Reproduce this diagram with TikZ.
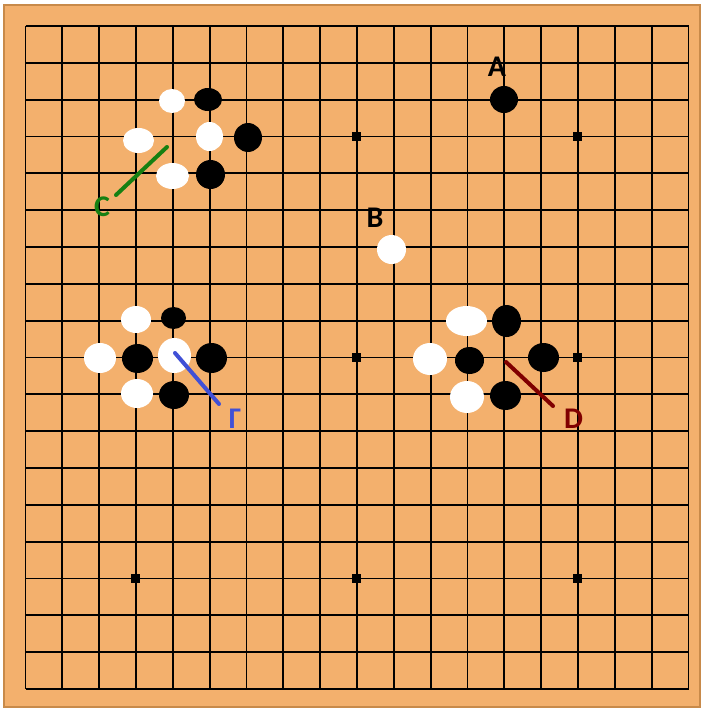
\documentclass[tikz,border=0pt]{standalone}
\usepackage{fontspec}
\setmainfont{Carlito}
\usetikzlibrary{shapes.geometric}
\definecolor{boardfill}{RGB}{243,176,109}
\definecolor{boardedge}{RGB}{200,138,74}
\definecolor{cgreen}{RGB}{22,128,18}
\definecolor{cblue}{RGB}{64,80,214}
\definecolor{cred}{RGB}{128,0,0}
\tikzset{
  stone/.style={ellipse, inner sep=0pt, draw=none},
  wst/.style={stone, fill=white},
  bst/.style={stone, fill=black},
  lab/.style={inner sep=0pt, font=\fontsize{30}{30}\selectfont\bfseries},
  markline/.style={line width=4pt, line cap=round},
  gridline/.style={line width=1.8pt, black},
  hoshi/.style={fill=black}
}
\begin{document}
\begin{tikzpicture}[x=1pt,y=-1pt]
\useasboundingbox (0,0) rectangle (701,709);
\fill[white] (0,0) rectangle (701,709);
% board
\draw[fill=boardfill, draw=boardedge, line width=1.5pt] (4,5) rectangle (700,707);
% grid
\foreach \i in {0,...,18}{
  \draw[gridline] (25.5+36.83*\i,26) -- (25.5+36.83*\i,689);
  \draw[gridline] (25.5,26+36.83*\i) -- (688.5,26+36.83*\i);
}
% star points
\foreach \i in {3,9,15}{
  \foreach \j in {3,9,15}{
    \fill[hoshi] (25.5+36.83*\i-4.5,26+36.83*\j-4.5) rectangle +(9,9);
  }
}
% top-left group
\node[wst, minimum width=26pt, minimum height=24pt] (w1) at (172,101) {};
\node[bst, minimum width=28pt, minimum height=23pt] (b1) at (208,99.5) {};
\node[wst, minimum width=31pt, minimum height=25pt] (w2) at (138.5,140.5) {};
\node[wst, minimum width=27pt, minimum height=29pt] (w3) at (209.5,136.5) {};
\node[bst, minimum width=28pt, minimum height=29pt] (b2) at (248,137.5) {};
\node[wst, minimum width=33pt, minimum height=26pt] (w4) at (172.5,176) {};
\node[bst, minimum width=29pt, minimum height=29pt] (b3) at (210.5,174.5) {};
% A and B
\node[bst, minimum width=28pt, minimum height=27pt] (bA) at (504,99.5) {};
\node[wst, minimum width=29pt, minimum height=29pt] (wB) at (391.5,249.5) {};
% left group
\node[wst, minimum width=30pt, minimum height=27pt] (w5) at (136,319.5) {};
\node[bst, minimum width=25pt, minimum height=22pt] (b4) at (173.5,318) {};
\node[wst, minimum width=32pt, minimum height=30pt] (w6) at (100,358) {};
\node[bst, minimum width=31pt, minimum height=29pt] (b5) at (137.5,358.5) {};
\node[wst, minimum width=33pt, minimum height=35pt] (w7) at (174.5,355.5) {};
\node[bst, minimum width=31pt, minimum height=30pt] (b6) at (211.5,358) {};
\node[wst, minimum width=32pt, minimum height=29pt] (w8) at (137,393.5) {};
\node[bst, minimum width=30pt, minimum height=28pt] (b7) at (174,395) {};
% right group
\node[wst, minimum width=41pt, minimum height=30pt] (w9) at (466.5,321) {};
\node[bst, minimum width=29pt, minimum height=32pt] (b8) at (506.5,321) {};
\node[wst, minimum width=34pt, minimum height=32pt] (w10) at (430,359) {};
\node[bst, minimum width=29pt, minimum height=27pt] (b9) at (469.5,360.5) {};
\node[bst, minimum width=31pt, minimum height=29pt] (b10) at (543.5,357.5) {};
\node[wst, minimum width=34pt, minimum height=32pt] (w11) at (467,397) {};
\node[bst, minimum width=31pt, minimum height=29pt] (b11) at (505.5,395.5) {};
% marker lines
\coordinate (c1) at (167,147);
\coordinate (c2) at (116,195);
\coordinate (g1) at (175,353);
\coordinate (g2) at (219,404);
\coordinate (d1) at (506,362);
\coordinate (d2) at (553,406);
\draw[markline, cgreen] (c1) -- (c2);
\draw[markline, cblue] (g1) -- (g2);
\draw[markline, cred] (d1) -- (d2);
% labels
\node[lab, black] (lA) at (497,67) {A};
\node[lab, black] (lB) at (375,217.5) {B};
\node[lab, cgreen] (lC) at (102,207) {C};
\node[lab, cblue] (lG) at (235,418.5) {Γ};
\node[lab, cred] (lD) at (573.5,419) {D};
\end{tikzpicture}
\end{document}
